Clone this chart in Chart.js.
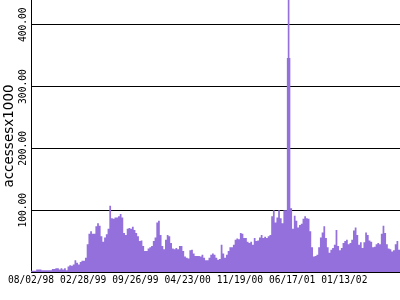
<!DOCTYPE html>
<html><head><meta charset="utf-8">
<script src="https://cdn.jsdelivr.net/npm/chart.js@4"></script>
<style>html,body{margin:0;padding:0;background:#fff}canvas{display:block}</style>
</head><body>
<canvas id="c" width="400" height="300"></canvas>
<script>
const tickLabels = ['08/02/98','02/28/99','09/26/99','04/23/00','11/19/00','06/17/01','01/13/02'];
const tickEvery = 30;
const yTickValues = [100, 200, 300, 400];
const accesses = [
  2,2,2,4,4,4,3,3,3,3,
  3,3,5,5,6,6,4,6,4,6,
  3,9,11,10,12,19,15,12,16,18,
  18,23,45,62,66,62,62,74,79,75,
  58,49,56,61,70,107,87,86,88,88,
  90,94,88,63,60,70,71,70,73,68,
  63,58,50,51,42,34,34,38,40,42,
  50,56,80,83,60,42,37,52,60,58,
  47,38,37,39,37,42,42,34,25,23,
  22,35,36,30,26,26,26,25,28,23,
  19,19,23,28,30,28,23,20,21,44,
  30,23,28,34,40,40,44,52,54,53,
  63,62,55,55,49,47,49,44,55,50,
  51,56,60,55,57,55,58,60,90,100,
  80,88,100,87,79,100,100,346,346,103,
  70,91,83,72,76,78,86,90,87,86,
  66,40,25,26,28,40,56,64,74,55,
  40,31,36,39,44,68,42,35,39,47,
  50,52,45,47,52,67,72,60,44,48,
  39,48,64,60,51,49,40,41,45,47,
  45,62,75,63,45,38,37,33,35,45,
  50,36,44
];
const peakIndex = 148;
const peakValue = 600;

const categories = accesses.map((_, i) => (i % tickEvery === 0 && tickLabels[i / tickEvery]) ? tickLabels[i / tickEvery] : '');
const peakData = accesses.map((_, i) => i === peakIndex ? peakValue : null);
const purple = '#9370db';
const tickFont = { family: 'DejaVu Sans Mono', size: 9.6 };

new Chart(document.getElementById('c'), {
  type: 'line',
  data: {
    labels: categories,
    datasets: [
      { type: 'line', data: accesses, stepped: true, fill: 'origin', backgroundColor: purple,
        borderWidth: 0, pointRadius: 0, order: 0 },
      { type: 'bar', data: peakData, backgroundColor: purple, barThickness: 1, order: 1 }
    ]
  },
  options: {
    responsive: false,
    animation: false,
    layout: { padding: 0, autoPadding: false },
    plugins: { legend: { display: false }, tooltip: { enabled: false } },
    scales: {
      x: {
        type: 'category', offset: false,
        grid: { display: false, drawTicks: false },
        border: { display: true, color: '#000', width: 1 },
        ticks: { autoSkip: false, maxRotation: 0, minRotation: 0, padding: 3, color: '#000', font: tickFont },
        afterFit: s => { s.height = 28; s.paddingLeft = 0; s.paddingRight = 0; }
      },
      y: {
        min: 0, max: 440,
        grid: { color: '#000', lineWidth: 1, drawTicks: false },
        border: { display: true, color: '#000', width: 1 },
        afterBuildTicks: s => { s.ticks = [0].concat(yTickValues).map(v => ({ value: v })); },
        ticks: {
          minRotation: 90, maxRotation: 90, padding: 8, labelOffset: -17.3,
          color: '#000', font: tickFont,
          callback: v => v === 0 ? '' : Number(v).toFixed(2)
        },
        title: { display: true, text: 'accessesx1000', color: '#000',
          font: { family: 'DejaVu Sans', size: 13.5 }, padding: { top: 1, bottom: 0 } },
        afterFit: s => { s.width = 31; s.paddingTop = 0; s.paddingBottom = 0; }
      }
    }
  }
});
</script>
</body></html>
